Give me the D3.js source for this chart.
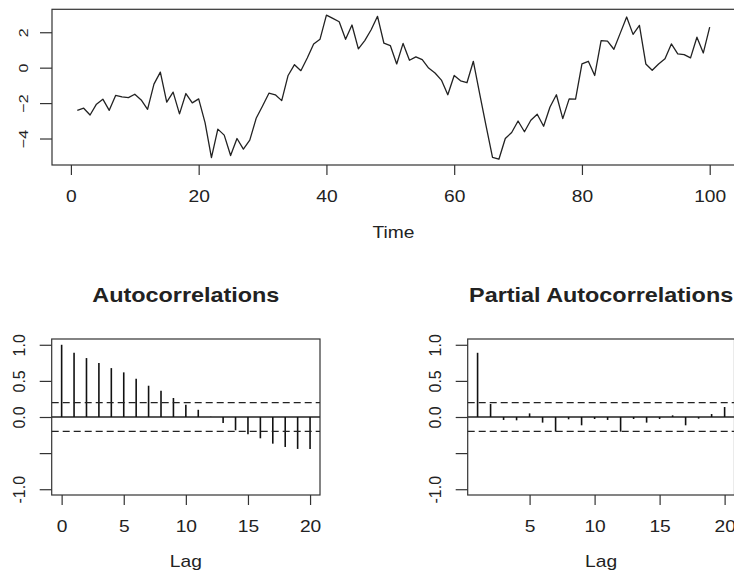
<!DOCTYPE html>
<html>
<head>
<meta charset="utf-8">
<script src="https://cdn.jsdelivr.net/npm/d3@7"></script>
<style>
  html, body { margin: 0; padding: 0; background: #fff; }
  svg { display: block; }
  text { font-family: "Liberation Sans", Arial, Helvetica, sans-serif; fill: #222; }
</style>
</head>
<body>
<div id="chart"></div>
<script>
// ---------------- data ----------------
const series = [
  -2.41, -2.29, -2.67, -2.06, -1.78, -2.41, -1.57, -1.65, -1.69, -1.50,
  -1.82, -2.35, -0.93, -0.25, -1.95, -1.38, -2.61, -1.46, -1.99, -1.76,
  -3.10, -5.08, -3.47, -3.81, -4.96, -4.00, -4.60, -4.09, -2.86, -2.16,
  -1.44, -1.53, -1.86, -0.44, 0.17, -0.17, 0.55, 1.34, 1.61, 2.97,
  2.78, 2.59, 1.60, 2.41, 1.06, 1.53, 2.14, 2.90, 1.38, 1.25,
  0.21, 1.37, 0.42, 0.61, 0.45, -0.02, -0.30, -0.70, -1.53, -0.44,
  -0.74, -0.85, 0.36, -1.50, -3.30, -5.06, -5.17, -4.00, -3.66, -3.01,
  -3.62, -2.97, -2.63, -3.31, -2.22, -1.53, -2.88, -1.76, -1.78, 0.21,
  0.36, -0.44, 1.53, 1.50, 1.04, 1.95, 2.86, 1.88, 2.39, 0.21,
  -0.15, 0.21, 0.51, 1.34, 0.78, 0.74, 0.55, 1.72, 0.83, 2.29
];
const timeIdx = series.map((d, i) => i + 1);

const acfLags = d3.range(0, 21);
const acfValues = [1.0, 0.889, 0.816, 0.747, 0.677, 0.618, 0.53, 0.433, 0.364, 0.263,
  0.17, 0.10, 0.003, -0.083, -0.184, -0.24, -0.295, -0.369, -0.415, -0.442, -0.442];

const pacfLags = d3.range(1, 21);
const pacfValues = [0.889, 0.18, -0.041, -0.046, 0.05, -0.078, -0.203, -0.032, -0.115, -0.028,
  -0.041, -0.203, -0.028, -0.078, -0.028, 0.023, -0.115, -0.023, 0.041, 0.138];

const ciBound = 0.2;

const timeTicks = [0, 20, 40, 60, 80, 100];
const seriesYTicks = [-4, -2, 0, 2];
const acfXTicks = [0, 5, 10, 15, 20];
const pacfXTicks = [5, 10, 15, 20];
const corrYTicks = [-1, -0.5, 0, 0.5, 1];
const corrYLabels = { "-1": "-1.0", "-0.5": "", "0": "0.0", "0.5": "0.5", "1": "1.0" };

const titleAcf = "Autocorrelations";
const titlePacf = "Partial Autocorrelations";
const xLabelTop = "Time";
const xLabelLag = "Lag";

// ---------------- layout ----------------
const W = 734, H = 573;
const SX = 1.2;       // horizontal stretch of the reference
const svg = d3.select("#chart").append("svg").attr("width", W).attr("height", H);
svg.append("rect").attr("width", W).attr("height", H).attr("fill", "#fff");

function padExtent(ext, f = 0.04) {
  const r = ext[1] - ext[0];
  return [ext[0] - r * f, ext[1] + r * f];
}

function drawBox(x, y) {
  const [x0, x1] = x.range(), [y0, y1] = y.range();
  svg.append("rect")
    .attr("x", Math.min(x0, x1)).attr("y", Math.min(y0, y1))
    .attr("width", Math.abs(x1 - x0)).attr("height", Math.abs(y1 - y0))
    .attr("fill", "none").attr("stroke", "#333").attr("stroke-width", 1.2);
}

function xAxis(x, yPos, ticks, fmt, labelBaseline) {
  const g = svg.append("g").attr("transform", `translate(0,${yPos})`)
    .call(d3.axisBottom(x).tickValues(ticks).tickSize(10).tickSizeOuter(0).tickFormat(fmt));
  g.select(".domain").remove();
  g.selectAll(".tick line").attr("stroke", "#333").attr("stroke-width", 1.2);
  g.selectAll(".tick text")
    .attr("y", null).attr("dy", null)
    .attr("transform", `translate(0,${labelBaseline - yPos}) scale(${SX},1)`)
    .style("font-size", "16px").attr("fill", "#222");
}

function yAxis(y, xPos, ticks, fmt, labelBaseline, glyphScale) {
  const g = svg.append("g").attr("transform", `translate(${xPos},0)`)
    .call(d3.axisLeft(y).tickValues(ticks).tickSize(12).tickSizeOuter(0).tickFormat(fmt));
  g.select(".domain").remove();
  g.selectAll(".tick line").attr("stroke", "#333").attr("stroke-width", 1.2);
  g.selectAll(".tick text")
    .attr("x", null).attr("dy", null)
    .attr("text-anchor", "middle")
    .attr("transform", `translate(${labelBaseline - xPos},0) rotate(-90) scale(1,${glyphScale})`)
    .style("font-size", "16px").attr("fill", "#222");
}

function label(txt, cx, baseline, size, bold) {
  svg.append("text")
    .attr("transform", `translate(${cx},${baseline}) scale(${SX},1)`)
    .attr("text-anchor", "middle")
    .style("font-size", size + "px")
    .style("font-weight", bold ? "bold" : "normal")
    .text(txt);
}

// ---------------- top: time series ----------------
const xT = d3.scaleLinear().domain(padExtent(d3.extent(timeIdx))).range([52, 735]);
const yT = d3.scaleLinear().domain(padExtent(d3.extent(series))).range([165, 9.3]);

svg.append("path")
  .datum(series)
  .attr("d", d3.line().x((d, i) => xT(timeIdx[i])).y(d => yT(d)))
  .attr("fill", "none").attr("stroke", "#222").attr("stroke-width", 1.3)
  .attr("stroke-linejoin", "round");

drawBox(xT, yT);
xAxis(xT, 165, timeTicks, d3.format("d"), 202);
yAxis(yT, 52, seriesYTicks, d3.format("d"), 27.5, 0.82);
label(xLabelTop, (52 + 735) / 2, 238, 16, false);

// ---------------- bottom-left: ACF ----------------
const corrDomain = padExtent([-1, 1]);
const xA = d3.scaleLinear().domain(padExtent(d3.extent(acfLags))).range([51.7, 320]);
const yA = d3.scaleLinear().domain(corrDomain).range([495, 339]);

function corrPanel(x, y, lags, vals, xTicks, title) {
  const [xl, xr] = x.range();
  // zero line
  svg.append("line").attr("x1", xl).attr("x2", xr).attr("y1", y(0)).attr("y2", y(0))
    .attr("stroke", "#222").attr("stroke-width", 1.3);
  // bars
  svg.append("g").selectAll("line").data(vals).join("line")
    .attr("x1", (d, i) => x(lags[i])).attr("x2", (d, i) => x(lags[i]))
    .attr("y1", y(0)).attr("y2", d => y(d))
    .attr("stroke", "#111").attr("stroke-width", 1.6);
  // confidence bounds
  [ciBound, -ciBound].forEach(c => {
    svg.append("line").attr("x1", xl).attr("x2", xr).attr("y1", y(c)).attr("y2", y(c))
      .attr("stroke", "#222").attr("stroke-width", 1.3).attr("stroke-dasharray", "7,4");
  });
  drawBox(x, y);
  xAxis(x, 495, xTicks, d3.format("d"), 532.3);
  yAxis(y, xl, corrYTicks, d => corrYLabels[String(d)], xl - 26.5, 1.07);
  label(title, (xl + xr) / 2, 302.3, 19.5, true);
  label(xLabelLag, (xl + xr) / 2, 566.5, 16, false);
}

corrPanel(xA, yA, acfLags, acfValues, acfXTicks, titleAcf);

// ---------------- bottom-right: PACF ----------------
const xP = d3.scaleLinear().domain(padExtent(d3.extent(pacfLags))).range([467.7, 734.5]);
const yP = d3.scaleLinear().domain(corrDomain).range([495, 339]);
corrPanel(xP, yP, pacfLags, pacfValues, pacfXTicks, titlePacf);
</script>
</body>
</html>
